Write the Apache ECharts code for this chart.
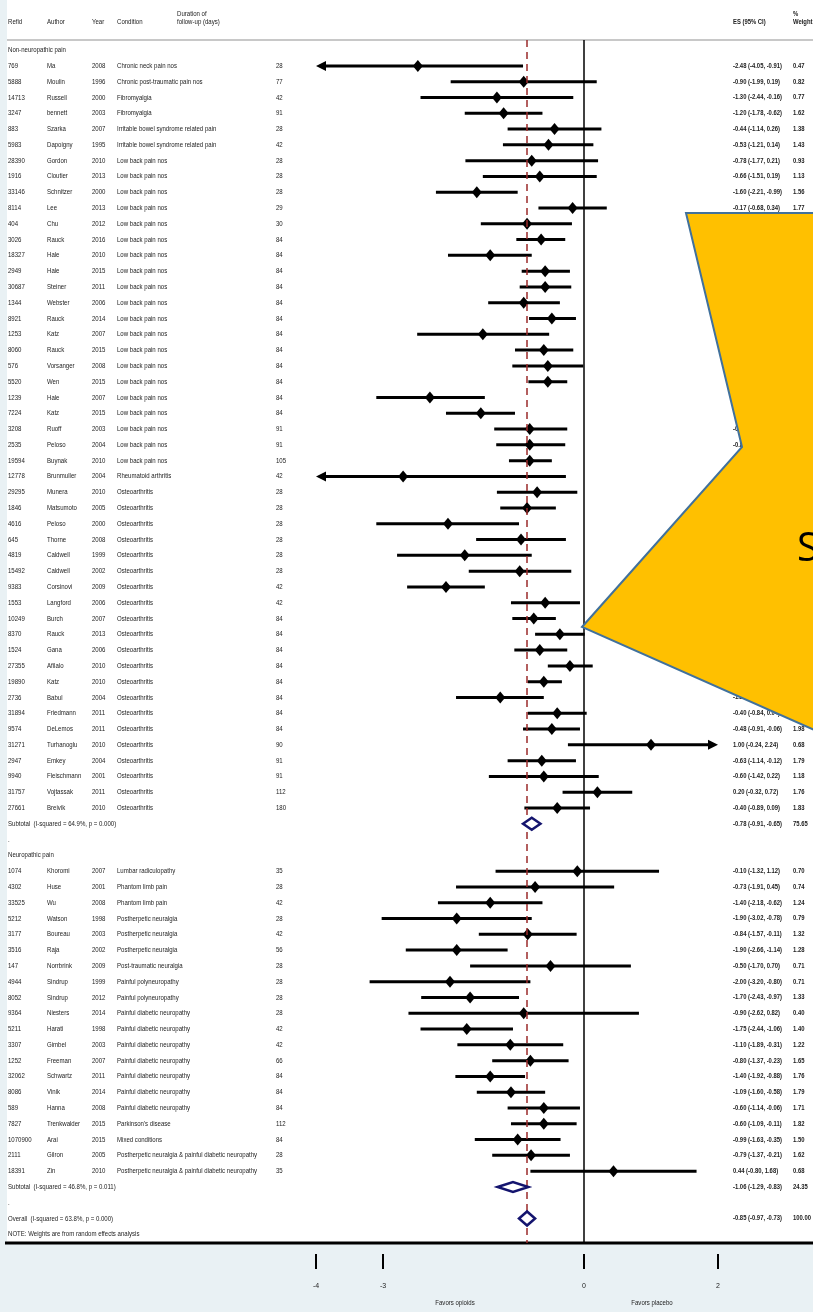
<!DOCTYPE html>
<html><head><meta charset="utf-8">
<style>html,body{margin:0;padding:0;background:#e9f1f4}#c{width:813px;height:1312px}</style>
<script src="https://cdn.jsdelivr.net/npm/echarts@6/dist/echarts.min.js"></script>
</head><body><div id="c"></div><script>
// ---------- DATA ----------
const groupLabels = ["Non-neuropathic pain", "Neuropathic pain"];
const groupSizes = [48, 20];
const refids = [769,5888,14713,3247,883,5983,28390,1916,33146,8114,404,3026,18327,2949,30687,1344,8921,1253,8060,576,5520,1239,7224,3208,2535,19594,12778,29295,1846,4616,645,4819,15492,9383,1553,10249,8370,1524,27355,19890,2736,31894,9574,31271,2947,9940,31757,27661,
 1074,4302,33525,5212,3177,3516,147,4944,8052,9364,5211,3307,1252,32062,8086,589,7827,1070900,2111,18391];
const authors = ["Ma","Moulin","Russell","bennett","Szarka","Dapoigny","Gordon","Cloutier","Schnitzer","Lee","Chu","Rauck","Hale","Hale","Steiner","Webster","Rauck","Katz","Rauck","Vorsanger","Wen","Hale","Katz","Ruoff","Peloso","Buynak","Brunmuller","Munera","Matsumoto","Peloso","Thorne","Caldwell","Caldwell","Corsinovi","Langford","Burch","Rauck","Gana","Afilalo","Katz","Babul","Friedmann","DeLemos","Turhanoglu","Emkey","Fleischmann","Vojtassak","Breivik",
 "Khoromi","Huse","Wu","Watson","Boureau","Raja","Norrbrink","Sindrup","Sindrup","Niesters","Harati","Gimbel","Freeman","Schwartz","Vinik","Hanna","Trenkwalder","Arai","Gilron","Zin"];
const years = [2008,1996,2000,2003,2007,1995,2010,2013,2000,2013,2012,2016,2010,2015,2011,2006,2014,2007,2015,2008,2015,2007,2015,2003,2004,2010,2004,2010,2005,2000,2008,1999,2002,2009,2006,2007,2013,2006,2010,2010,2004,2011,2011,2010,2004,2001,2011,2010,
 2007,2001,2008,1998,2003,2002,2009,1999,2012,2014,1998,2003,2007,2011,2014,2008,2015,2015,2005,2010];
const LBP = "Low back pain nos", OA = "Osteoarthritis", PDN = "Painful diabetic neuropathy", PHN = "Postherpetic neuralgia", MIX = "Postherpetic neuralgia & painful diabetic neuropathy";
const conditions = ["Chronic neck pain nos","Chronic post-traumatic pain nos","Fibromyalgia","Fibromyalgia","Irritable bowel syndrome related pain","Irritable bowel syndrome related pain",
 LBP,LBP,LBP,LBP,LBP,LBP,LBP,LBP,LBP,LBP,LBP,LBP,LBP,LBP,LBP,LBP,LBP,LBP,LBP,LBP,
 "Rheumatoid arthritis",
 OA,OA,OA,OA,OA,OA,OA,OA,OA,OA,OA,OA,OA,OA,OA,OA,OA,OA,OA,OA,OA,
 "Lumbar radiculopathy","Phantom limb pain","Phantom limb pain",PHN,PHN,PHN,"Post-traumatic neuralgia","Painful polyneuropathy","Painful polyneuropathy",
 PDN,PDN,PDN,PDN,PDN,PDN,PDN,"Parkinson's disease","Mixed conditions",MIX,MIX];
const durations = [28,77,42,91,28,42,28,28,28,29,30,84,84,84,84,84,84,84,84,84,84,84,84,91,91,105,42,28,28,28,28,28,28,42,42,84,84,84,84,84,84,84,84,90,91,91,112,180,
 35,28,42,28,42,56,28,28,28,28,42,42,66,84,84,84,112,84,28,35];
const esValues = [-2.48,-0.90,-1.30,-1.20,-0.44,-0.53,-0.78,-0.66,-1.60,-0.17,
 -0.85,-0.64,-1.40,-0.58,-0.58,-0.90,-0.48,-1.51,-0.60,-0.54,
 -0.54,-2.30,-1.54,-0.81,-0.81,-0.81,-2.70,-0.70,-0.85,-2.03,
 -0.94,-1.78,-0.96,-2.06,-0.58,-0.75,-0.36,-0.66,-0.21,-0.60,
 -1.25,-0.40,-0.48,1.00,-0.63,-0.60,0.20,-0.40,
 -0.10,-0.73,-1.40,-1.90,-0.84,-1.90,-0.50,-2.00,-1.70,-0.90,-1.75,-1.10,-0.80,-1.40,-1.09,-0.60,-0.60,-0.99,-0.79,0.44];
const ciLower = [-4.05,-1.99,-2.44,-1.78,-1.14,-1.21,-1.77,-1.51,-2.21,-0.68,
 -1.54,-1.01,-2.03,-0.93,-0.96,-1.43,-0.82,-2.49,-1.03,-1.07,
 -0.83,-3.10,-2.06,-1.34,-1.31,-1.12,-5.13,-1.30,-1.25,-3.10,
 -1.61,-2.79,-1.72,-2.64,-1.09,-1.07,-0.73,-1.04,-0.54,-0.84,
 -1.91,-0.84,-0.91,-0.24,-1.14,-1.42,-0.32,-0.89,
 -1.32,-1.91,-2.18,-3.02,-1.57,-2.66,-1.70,-3.20,-2.43,-2.62,-2.44,-1.89,-1.37,-1.92,-1.60,-1.14,-1.09,-1.63,-1.37,-0.80];
const ciUpper = [-0.91,0.19,-0.16,-0.62,0.26,0.14,0.21,0.19,-0.99,0.34,
 -0.18,-0.28,-0.78,-0.21,-0.19,-0.36,-0.12,-0.52,-0.16,-0.01,
 -0.25,-1.48,-1.03,-0.25,-0.28,-0.48,-0.27,-0.10,-0.42,-0.97,
 -0.27,-0.78,-0.19,-1.48,-0.06,-0.42,0.01,-0.25,0.13,-0.33,
 -0.60,0.04,-0.06,2.24,-0.12,0.22,0.72,0.09,
 1.12,0.45,-0.62,-0.78,-0.11,-1.14,0.70,-0.80,-0.97,0.82,-1.06,-0.31,-0.23,-0.88,-0.58,-0.06,-0.11,-0.35,-0.21,1.68];
const weights = [0.47,0.82,0.77,1.62,1.38,1.43,0.93,1.13,1.56,1.77,
 1.36,1.95,1.52,2.00,1.93,1.60,1.98,0.79,1.80,1.66,
 2.02,0.95,1.72,1.52,1.58,2.05,0.38,1.48,1.86,0.97,
 1.42,1.02,1.27,1.75,1.69,2.04,1.91,1.85,1.92,2.15,
 1.45,1.82,1.98,0.68,1.79,1.18,1.76,1.83,
 0.70,0.74,1.24,0.79,1.32,1.28,0.71,0.71,1.33,0.40,1.40,1.22,1.65,1.76,1.79,1.71,1.82,1.50,1.62,0.68];
const subtotalLabels = ["Subtotal  (I-squared = 64.9%, p = 0.000)", "Subtotal  (I-squared = 46.8%, p = 0.011)"];
const subtotalES = [-0.78, -1.06];
const subtotalLower = [-0.91, -1.29];
const subtotalUpper = [-0.65, -0.83];
const subtotalWeight = [75.65, 24.35];
const overallLabel = "Overall  (I-squared = 63.8%, p = 0.000)";
const overallES = -0.85, overallLower = -0.97, overallUpper = -0.73, overallWeight = 100.00;
const noteText = "NOTE: Weights are from random effects analysis";
const xTicks = [-4, -3, 0, 2];

// ---------- LAYOUT ----------
const XMIN = -4, XMAX = 2, YMIN = -0.64, YMAX = 75.55;
const FAM = '"Liberation Sans", Arial, "Noto Sans", sans-serif';
const FONT = '7.4px ' + FAM;
const FONTB = 'bold 7px ' + FAM;
const TXT = '#222';
const COL = {refid: 8, author: 47, year: 92, cond: 117, dur: 276, es: 733, wt: 793};

const rows = [];
let k = 0;
for (let g = 0; g < 2; g++) {
  rows.push({type: 'group', text: groupLabels[g]});
  for (let j = 0; j < groupSizes[g]; j++, k++) rows.push({type: 'study', i: k});
  rows.push({type: 'pooled', text: subtotalLabels[g], es: subtotalES[g], lo: subtotalLower[g], hi: subtotalUpper[g], w: subtotalWeight[g], h: g === 0 ? 6 : 5});
  rows.push({type: 'text', text: '.'});
}
rows.push({type: 'pooled', text: overallLabel, es: overallES, lo: overallLower, hi: overallUpper, w: overallWeight, h: 7});
rows.push({type: 'text', text: noteText});

const f2 = v => v.toFixed(2);
const esStr = (e, l, h) => f2(e) + ' (' + f2(l) + ', ' + f2(h) + ')';

function txt(x, y, s, bold, align) {
  const a = align || 'left';
  return {type: 'text', x: x, y: y, scaleX: bold ? 0.84 : 0.82, scaleY: 1,
    style: {x: 0, y: 0, text: String(s), font: bold ? FONTB : FONT, fill: TXT,
      textAlign: a, textVerticalAlign: 'middle', align: a, verticalAlign: 'middle'}};
}
function z(el, zz) { el.z = zz; return el; }

const tableData = rows.map((r, idx) => [0, idx]);
const studyData = [], pooledData = [];
rows.forEach((r, idx) => {
  if (r.type === 'study') studyData.push([esValues[r.i], ciLower[r.i], ciUpper[r.i], idx]);
  if (r.type === 'pooled') pooledData.push([r.es, r.lo, r.hi, idx, r.h]);
});

const chart = echarts.init(document.getElementById('c'), null, {renderer: 'canvas'});
chart.setOption({
  backgroundColor: '#e9f1f4',
  animation: false,
  grid: {left: 316, right: 95, top: 40, bottom: 69},
  xAxis: {type: 'value', min: XMIN, max: XMAX,
    axisLine: {show: false}, splitLine: {show: false}, axisTick: {show: false},
    axisLabel: {show: true, customValues: xTicks, margin: 40, color: TXT, fontSize: 7, fontFamily: FAM}},
  yAxis: {type: 'value', min: YMIN, max: YMAX, inverse: true, show: false},
  graphic: [
    {type: 'rect', shape: {x: 7, y: 0, width: 806, height: 1243}, style: {fill: '#fff'}, z: -10, silent: true},
    {type: 'line', shape: {x1: 7, y1: 40, x2: 813, y2: 40}, style: {stroke: '#c8c8c8', lineWidth: 2}, z: 1},
    {type: 'line', shape: {x1: 5, y1: 1243, x2: 813, y2: 1243}, style: {stroke: '#000', lineWidth: 3}, z: 1},
    z(txt(COL.refid, 22, 'Refid'), 5),
    z(txt(COL.author, 22, 'Author'), 5),
    z(txt(COL.year, 22, 'Year'), 5),
    z(txt(COL.cond, 22, 'Condition'), 5),
    z(txt(177, 14, 'Duration of'), 5),
    z(txt(177, 22, 'follow-up (days)'), 5),
    z(txt(COL.es, 22, 'ES (95% CI)', true), 5),
    z(txt(COL.wt, 14, '%', true), 5),
    z(txt(COL.wt, 22, 'Weight', true), 5),
    z(txt(455, 1303, 'Favors opioids', false, 'center'), 5),
    z(txt(652, 1303, 'Favors placebo', false, 'center'), 5),
    {type: 'polygon', z: 100, shape: {points: [[686, 213], [900, 213], [900, 768], [582, 627], [742, 447]]},
      style: {fill: '#ffc000', stroke: '#41719c', lineWidth: 2}},
    {type: 'text', z: 101, style: {x: 797, y: 550, text: 'S', font: '40px "Open Sans", "Noto Sans", sans-serif', fill: '#000', textAlign: 'left', textVerticalAlign: 'middle', align: 'left', verticalAlign: 'middle'}}
  ],
  series: [
    {type: 'line', data: [], z: 1, silent: true,
      markLine: {silent: true, symbol: 'none', label: {show: false}, animation: false,
        data: [
          {xAxis: 0, lineStyle: {color: '#000', width: 1.5, type: 'solid'}},
          {xAxis: overallES, lineStyle: {color: '#9a2a2a', width: 1.5, type: [7, 5]}}
        ]}},
    {type: 'custom', name: 'ticks', data: xTicks.map(v => [v]), z: 3, clip: false, silent: true,
      renderItem: function (params, api) {
        const p = api.coord([api.value(0), YMAX]);
        return {type: 'line', shape: {x1: p[0], y1: p[1] + 11, x2: p[0], y2: p[1] + 26}, style: {stroke: '#000', lineWidth: 2}};
      }},
    {type: 'custom', name: 'table', data: tableData, z: 3, clip: false, silent: true,
      renderItem: function (params, api) {
        const r = rows[params.dataIndex];
        const y = api.coord([0, api.value(1)])[1];
        const ch = [];
        if (r.type === 'study') {
          const i = r.i;
          ch.push(txt(COL.refid, y, refids[i]), txt(COL.author, y, authors[i]), txt(COL.year, y, years[i]),
            txt(COL.cond, y, conditions[i]), txt(COL.dur, y, durations[i]),
            txt(COL.es, y, esStr(esValues[i], ciLower[i], ciUpper[i]), true), txt(COL.wt, y, f2(weights[i]), true));
        } else if (r.type === 'pooled') {
          ch.push(txt(COL.refid, y, r.text), txt(COL.es, y, esStr(r.es, r.lo, r.hi), true), txt(COL.wt, y, f2(r.w), true));
        } else {
          ch.push(txt(COL.refid, y, r.text));
        }
        return {type: 'group', children: ch};
      }},
    {type: 'custom', name: 'studies', data: studyData, z: 4, clip: false, silent: true,
      renderItem: function (params, api) {
        const es = api.value(0), lo = api.value(1), hi = api.value(2), idx = api.value(3);
        const pl = api.coord([Math.max(lo, XMIN), idx]), ph = api.coord([Math.min(hi, XMAX), idx]), pe = api.coord([es, idx]);
        const y = pe[1];
        const ch = [];
        let x1 = pl[0], x2 = ph[0];
        if (lo < XMIN) { ch.push({type: 'polygon', shape: {points: [[pl[0], y], [pl[0] + 10, y - 5], [pl[0] + 10, y + 5]]}, style: {fill: '#000'}}); x1 = pl[0] + 8; }
        if (hi > XMAX) { ch.push({type: 'polygon', shape: {points: [[ph[0], y], [ph[0] - 10, y - 5], [ph[0] - 10, y + 5]]}, style: {fill: '#000'}}); x2 = ph[0] - 8; }
        ch.push({type: 'line', shape: {x1: x1, y1: y, x2: x2, y2: y}, style: {stroke: '#000', lineWidth: 3}});
        ch.push({type: 'polygon', shape: {points: [[pe[0] - 5, y], [pe[0], y - 6], [pe[0] + 5, y], [pe[0], y + 6]]}, style: {fill: '#000'}});
        return {type: 'group', children: ch};
      }},
    {type: 'custom', name: 'pooled', data: pooledData, z: 5, clip: false, silent: true,
      renderItem: function (params, api) {
        const es = api.value(0), lo = api.value(1), hi = api.value(2), idx = api.value(3), h = api.value(4);
        const pl = api.coord([lo, idx]), ph = api.coord([hi, idx]), pe = api.coord([es, idx]);
        const y = pe[1];
        return {type: 'polygon', shape: {points: [[pl[0], y], [pe[0], y - h], [ph[0], y], [pe[0], y + h]]},
          style: {fill: '#fff', stroke: '#14146e', lineWidth: 2.5}};
      }}
  ]
});
</script></body></html>
